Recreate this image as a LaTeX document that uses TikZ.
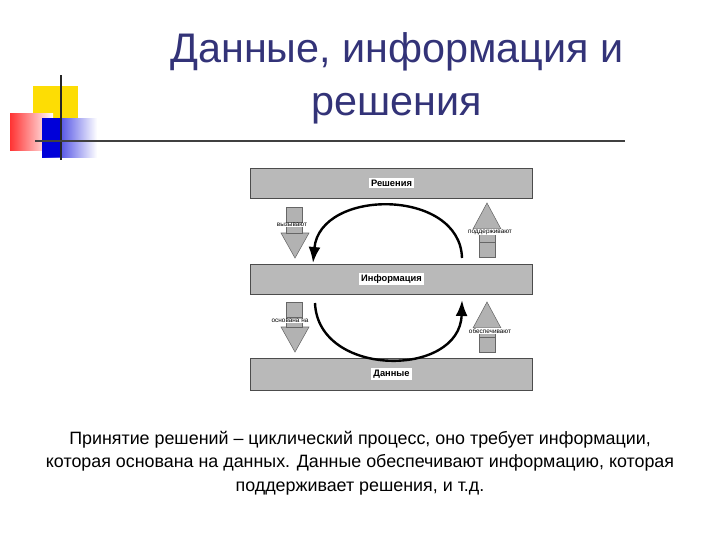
\documentclass[tikz,border=0pt]{standalone}
\usepackage{fontspec}
\setmainfont{Liberation Sans}
\usetikzlibrary{arrows.meta}
\begin{document}
\begin{tikzpicture}[x=0.75pt,y=-0.75pt,
  bar/.style={draw=black!70,fill=gray!55,line width=0.6pt},
  lbl/.style={fill=white,inner sep=1.5pt,font=\fontsize{7}{8}\selectfont\bfseries},
  small/.style={fill=white,inner sep=0.5pt,font=\fontsize{4.8}{5}\selectfont},
  arr/.style={draw=black!60,fill=gray!60,line width=0.4pt},
  curve/.style={line width=1.8pt,-{Latex[length=12pt,width=9pt]}}]
\useasboundingbox (0,0) rectangle (720,540);
% decoration
\fill[yellow!80!orange] (33,86) rectangle (78,130);
\shade[left color=red!80,right color=white] (10,113) rectangle (53,150);
\shade[left color=blue!85!black,right color=white] (42,118) rectangle (97,157);
\fill[blue!85!black] (42,118) rectangle (60,157);
\draw[line width=1.5pt,black!85] (61,75) -- (61,160);
\draw[line width=1.2pt,black!75] (35,141) -- (625,141);
% title
\node[font=\fontsize{31}{40}\selectfont,text={rgb,255:red,51;green,51;blue,120},align=center] (t) at (397,78) {Данные, информация и\\решения};
% bars
\node[bar,minimum width=212pt,minimum height=22.5pt] (r) at (391.5,183) {};
\node[lbl] at (r) {Решения};
\node[bar,minimum width=212pt,minimum height=22.5pt] (i) at (391.5,279) {};
\node[lbl] at (i) {Информация};
\node[bar,minimum width=212pt,minimum height=24pt] (d) at (391.5,374) {};
\node[lbl] at (d) {Данные};
% block arrows
\draw[arr] (286,207) rectangle (302,222);
\draw[arr] (281,233) -- (309,233) -- (295,258) -- cycle;
\draw[arr] (286,222) rectangle (302,233);
\node[small] (l1) at (292,225) {вызывают};
\draw[arr] (479,242) rectangle (495,257);
\draw[arr] (473,229) -- (501,229) -- (487,203) -- cycle;
\draw[arr] (479,229) rectangle (495,242);
\node[small] (r1) at (490,232) {поддерживают};
\draw[arr] (286,302) rectangle (302,317);
\draw[arr] (281,327) -- (309,327) -- (295,352) -- cycle;
\draw[arr] (286,317) rectangle (302,327);
\node[small] (l2) at (290,321) {основана на};
\draw[arr] (479,337) rectangle (495,352);
\draw[arr] (473,328) -- (501,328) -- (487,302) -- cycle;
\draw[arr] (479,328) rectangle (495,337);
\node[small] (r2) at (490,331) {обеспечивают};
% cycle arrows
\coordinate (a1) at (462,258); \coordinate (a2) at (313,263);
\coordinate (b1) at (315,303); \coordinate (b2) at (462,300);
\draw[curve] (a1) .. controls (460,188) and (320,188) .. (a2);
\draw[curve] (b1) .. controls (318,378) and (460,378) .. (b2);
% caption
\node[font=\fontsize{13.4}{17.5}\selectfont,align=center] (c) at (360,463) {Принятие решений – циклический процесс, оно требует информации,\\которая основана на данных. Данные обеспечивают информацию, которая\\поддерживает решения, и т.д.};
\end{tikzpicture}
\end{document}
